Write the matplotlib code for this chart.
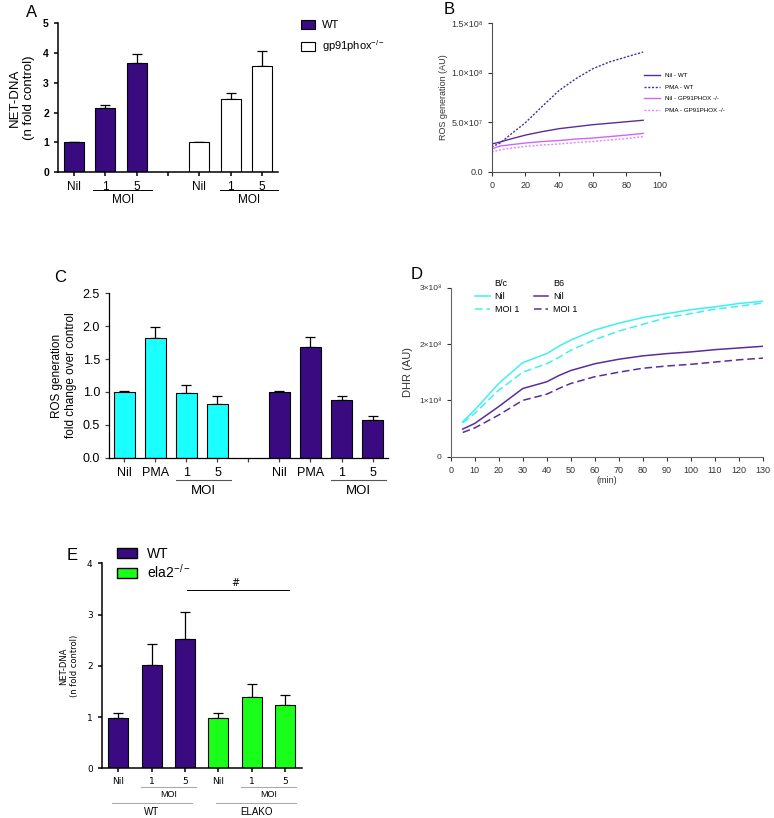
import numpy as np
import matplotlib
matplotlib.use('Agg')
import matplotlib.pyplot as plt
from matplotlib.patches import Patch
from matplotlib.lines import Line2D

plt.rcParams['font.family'] = ['Liberation Sans', 'DejaVu Sans']
plt.rcParams['mathtext.fontset'] = 'custom'
plt.rcParams['mathtext.rm'] = 'Liberation Sans'
plt.rcParams['mathtext.it'] = 'Liberation Sans:italic'

PURPLE = '#3a0a80'
CYAN = '#1affff'
GREEN = '#1aff1a'

# ---- data ----
# A: NET-DNA
a_labels = ['Nil', '1', '5']
a_wt = [1.0, 2.16, 3.68]
a_wt_err = [0.0, 0.11, 0.30]
a_gp = [1.0, 2.44, 3.56]
a_gp_err = [0.0, 0.23, 0.51]

# B: ROS kinetics
b_time = [0, 5, 10, 20, 30, 40, 50, 60, 70, 80, 90]
b_nil_wt = [2.8, 3.0, 3.25, 3.7, 4.05, 4.35, 4.55, 4.75, 4.9, 5.05, 5.2]
b_pma_wt = [2.5, 2.9, 3.6, 4.95, 6.6, 8.2, 9.4, 10.4, 11.1, 11.6, 12.1]
b_nil_gp = [2.3, 2.6, 2.7, 2.9, 3.05, 3.15, 3.3, 3.4, 3.55, 3.7, 3.87]
b_pma_gp = [2.0, 2.2, 2.35, 2.55, 2.7, 2.8, 2.95, 3.05, 3.2, 3.35, 3.55]

# C: ROS fold change
c_labels = ['Nil', 'PMA', '1', '5']
c_bc = [1.0, 1.82, 0.98, 0.82]
c_bc_err = [0.01, 0.16, 0.12, 0.12]
c_b6 = [1.0, 1.69, 0.87, 0.58]
c_b6_err = [0.01, 0.15, 0.07, 0.05]

# D: DHR kinetics
d_time = [5, 10, 20, 30, 40, 45, 50, 60, 70, 80, 90, 100, 110, 120, 130]
d_bc_nil = [0.62, 0.83, 1.30, 1.67, 1.83, 1.96, 2.07, 2.25, 2.37, 2.47, 2.54, 2.61, 2.66, 2.72, 2.76]
d_bc_moi = [0.60, 0.77, 1.18, 1.50, 1.65, 1.76, 1.89, 2.08, 2.23, 2.35, 2.47, 2.54, 2.62, 2.67, 2.73]
d_b6_nil = [0.49, 0.59, 0.89, 1.21, 1.33, 1.44, 1.53, 1.65, 1.73, 1.79, 1.83, 1.86, 1.90, 1.93, 1.96]
d_b6_moi = [0.43, 0.51, 0.74, 1.00, 1.11, 1.21, 1.30, 1.42, 1.50, 1.57, 1.61, 1.64, 1.68, 1.72, 1.75]

# E: NET-DNA WT vs ELAKO
e_labels = ['Nil', '1', '5']
e_wt = [0.98, 2.02, 2.52]
e_wt_err = [0.09, 0.40, 0.52]
e_ko = [0.98, 1.40, 1.24]
e_ko_err = [0.09, 0.25, 0.19]


fig = plt.figure(figsize=(7.74, 8.18), dpi=100)


def style_bar_axes(ax, lw=1.1):
    for s in ['top', 'right']:
        ax.spines[s].set_visible(False)
    for s in ['left', 'bottom']:
        ax.spines[s].set_linewidth(lw)
    ax.tick_params(width=lw, length=3)


def bars(ax, x, vals, errs, color, width):
    ax.errorbar(x, vals, yerr=[np.zeros(len(errs)), errs], fmt='none',
                ecolor='black', elinewidth=0.9, capsize=3.5, capthick=0.9, zorder=1)
    ax.bar(x, vals, width=width, color=color, edgecolor='black', linewidth=0.8, zorder=2)


def bracket(ax, x0, x1, y, text, ty, color='black', fs=9, lw=0.8):
    tr = ax.get_xaxis_transform()
    ax.plot([x0, x1], [y, y], color=color, lw=lw, transform=tr, clip_on=False)
    ax.text((x0 + x1) / 2, ty, text, transform=tr, ha='center', va='center', fontsize=fs)


# ---------------- A ----------------
axA = fig.add_axes([0.0749, 0.7897, 0.2842, 0.1818])
xa1 = np.arange(3)
xa2 = np.arange(3) + 4
bars(axA, xa1, a_wt, a_wt_err, PURPLE, 0.635)
bars(axA, xa2, a_gp, a_gp_err, 'white', 0.635)
axA.set_xlim(-0.5, 6.5)
axA.set_ylim(0, 5)
axA.set_yticks(range(6))
axA.set_xticks(range(7))
axA.set_xticklabels(a_labels + [''] + a_labels)
style_bar_axes(axA)
axA.tick_params(axis='x', labelsize=8.5)
axA.tick_params(axis='y', labelsize=7.5)
for t in axA.get_yticklabels():
    t.set_fontweight('bold')
axA.set_ylabel('NET-DNA\n(n fold control)', fontsize=9.5, labelpad=6)
bracket(axA, 0.63, 2.5, -0.12, 'MOI', -0.19, fs=8.5, lw=0.7)
bracket(axA, 4.67, 6.5, -0.12, 'MOI', -0.19, fs=8.5, lw=0.7)
axA.legend(handles=[Patch(facecolor=PURPLE, edgecolor='black', lw=0.8, label='WT'),
                    Patch(facecolor='white', edgecolor='black', lw=0.8, label=r'gp91phox$^{-/-}$')],
           loc='upper left', bbox_to_anchor=(0.376, 0.988), bbox_transform=fig.transFigure,
           frameon=False, fontsize=8, handlelength=1.3, handleheight=0.85, labelspacing=0.75,
           handletextpad=0.6)
fig.text(0.033, 0.985, 'A', fontsize=12, va='center')

# ---------------- B ----------------
axB = fig.add_axes([0.6353, 0.7901, 0.2174, 0.1814])
axB.plot(b_time, np.array(b_nil_wt) * 1e7, color='#5b2c99', lw=1.0, label='Nil - WT')
axB.plot(b_time, np.array(b_pma_wt) * 1e7, color='#4a2aa8', lw=1.0, ls=(0, (1.5, 1.2)), label='PMA - WT')
axB.plot(b_time, np.array(b_nil_gp) * 1e7, color='#cc66ff', lw=1.0, label='Nil - GP91PHOX -/-')
axB.plot(b_time, np.array(b_pma_gp) * 1e7, color='#dd88ff', lw=1.0, ls=(0, (1.5, 1.2)), label='PMA - GP91PHOX -/-')
axB.set_xlim(0, 100)
axB.set_ylim(0, 1.5e8)
axB.set_xticks([0, 20, 40, 60, 80, 100])
axB.set_yticks([0, 5e7, 1e8, 1.5e8])
axB.set_yticklabels(['0.0', '5.0×10⁷', '1.0×10⁸', '1.5×10⁸'])
for s in ['top', 'right']:
    axB.spines[s].set_visible(False)
for s in ['left', 'bottom']:
    axB.spines[s].set_color('#555555')
    axB.spines[s].set_linewidth(0.8)
axB.tick_params(labelsize=6.5, colors='#333333', width=0.8, length=3)
axB.set_ylabel('ROS generation (AU)', fontsize=6.5, color='#333333', labelpad=2)
axB.legend(loc='upper left', bbox_to_anchor=(0.825, 0.918), bbox_transform=fig.transFigure,
           frameon=False, fontsize=4.5, handlelength=2.6, labelspacing=1.0, handletextpad=0.8)
fig.text(0.573, 0.988, 'B', fontsize=12, va='center')

# ---------------- C ----------------
axC = fig.add_axes([0.1408, 0.4405, 0.3605, 0.2010])
xc1 = np.arange(4)
xc2 = np.arange(4) + 5
bars(axC, xc1, c_bc, c_bc_err, CYAN, 0.66)
bars(axC, xc2, c_b6, c_b6_err, PURPLE, 0.66)
axC.set_xlim(-0.5, 8.5)
axC.set_ylim(0, 2.5)
axC.set_yticks([0, 0.5, 1.0, 1.5, 2.0, 2.5])
axC.set_yticklabels(['0.0', '0.5', '1.0', '1.5', '2.0', '2.5'])
axC.set_xticks(range(9))
axC.set_xticklabels(c_labels + [''] + c_labels)
style_bar_axes(axC, lw=0.9)
axC.tick_params(labelsize=9, color='#444444')
axC.set_ylabel('ROS generation\nfold change over control', fontsize=8.5, labelpad=4)
bracket(axC, 1.66, 3.42, -0.136, 'MOI', -0.205, color='#555555', fs=9.5)
bracket(axC, 6.66, 8.42, -0.136, 'MOI', -0.205, color='#555555', fs=9.5)
fig.text(0.07, 0.661, 'C', fontsize=12, va='center')

# ---------------- D ----------------
axD = fig.add_axes([0.5823, 0.4417, 0.4035, 0.2066])
axD.plot(d_time, np.array(d_bc_nil) * 1e8, color='#40f0f0', lw=1.1, label='Nil')
axD.plot(d_time, np.array(d_bc_moi) * 1e8, color='#40f0f0', lw=1.1, ls=(0, (5, 2.5)), label='MOI 1')
axD.plot(d_time, np.array(d_b6_nil) * 1e8, color='#5a2d9c', lw=1.1, label='Nil')
axD.plot(d_time, np.array(d_b6_moi) * 1e8, color='#5a2d9c', lw=1.1, ls=(0, (5, 2.5)), label='MOI 1')
axD.set_xlim(0, 130)
axD.set_ylim(0, 3e8)
axD.set_xticks(range(0, 131, 10))
axD.set_yticks([0, 1e8, 2e8, 3e8])
axD.set_yticklabels(['0', '1×10⁸', '2×10⁸', '3×10⁸'])
for s in ['top', 'right']:
    axD.spines[s].set_visible(False)
for s in ['left', 'bottom']:
    axD.spines[s].set_color('#666666')
    axD.spines[s].set_linewidth(0.8)
axD.tick_params(axis='x', labelsize=6.5, colors='#333333', width=0.8, length=3)
axD.tick_params(axis='y', labelsize=6, colors='#333333', width=0.8, length=3)
axD.set_xlabel('(min)', fontsize=6.5, color='#333333', labelpad=1)
axD.set_ylabel('DHR (AU)', fontsize=8, color='#333333', labelpad=4)
hl = axD.get_legend_handles_labels()[0]
blank = Line2D([], [], color='none')
axD.legend([blank, hl[0], hl[1], blank, hl[2], hl[3]],
           ['B/c', 'Nil', 'MOI 1', 'B6', 'Nil', 'MOI 1'],
           ncol=2, loc='upper left', bbox_to_anchor=(0.603, 0.669), bbox_transform=fig.transFigure,
           frameon=False, fontsize=6.5, handlelength=1.65, columnspacing=1.6, labelspacing=0.45,
           handletextpad=0.55)
fig.text(0.53, 0.665, 'D', fontsize=12, va='center')

# ---------------- E ----------------
axE = fig.add_axes([0.1314, 0.0608, 0.2584, 0.2506])
xe1 = np.arange(3)
xe2 = np.arange(3) + 3
bars(axE, xe1, e_wt, e_wt_err, PURPLE, 0.6)
bars(axE, xe2, e_ko, e_ko_err, GREEN, 0.6)
axE.set_xlim(-0.5, 5.5)
axE.set_ylim(0, 4)
axE.set_yticks(range(5))
axE.set_xticks(range(6))
axE.set_xticklabels(e_labels + e_labels, family='DejaVu Sans')
style_bar_axes(axE, lw=1.1)
axE.tick_params(labelsize=6.5)
for t in axE.get_yticklabels():
    t.set_family('DejaVu Sans')
axE.set_ylabel('NET-DNA\n(n fold control)', fontsize=6, family='DejaVu Sans', labelpad=6)
bracket(axE, 0.68, 2.33, -0.091, 'MOI', -0.128, color='#aaaaaa', fs=6.5)
bracket(axE, 3.68, 5.33, -0.091, 'MOI', -0.128, color='#aaaaaa', fs=6.5)
bracket(axE, -0.2, 2.2, -0.170, 'WT', -0.212, color='#aaaaaa', fs=7)
bracket(axE, 2.93, 5.33, -0.170, 'ELAKO', -0.212, color='#aaaaaa', fs=7)
axE.plot([2.05, 5.12], [3.48, 3.48], color='black', lw=0.7, clip_on=False)
axE.text(3.5, 3.62, '#', ha='center', va='center', fontsize=7, family='DejaVu Sans')
axE.legend(handles=[Patch(facecolor=PURPLE, edgecolor='black', lw=1.0, label='WT'),
                    Patch(facecolor=GREEN, edgecolor='black', lw=1.0, label=r'ela2$^{-/-}$')],
           loc='upper left', bbox_to_anchor=(0.135, 0.3466), bbox_transform=fig.transFigure,
           frameon=False, fontsize=10, handlelength=1.45, handleheight=0.8, labelspacing=0.15,
           handletextpad=0.7)
fig.text(0.086, 0.321, 'E', fontsize=12, va='center')

fig.savefig('out.png', dpi=100)
